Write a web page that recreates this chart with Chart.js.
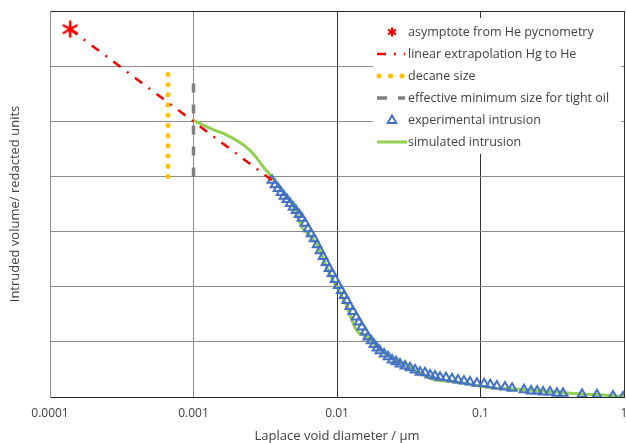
<!DOCTYPE html>
<html>
<head>
<meta charset="utf-8">
<script src="https://cdn.jsdelivr.net/npm/chart.js@4.4.1/dist/chart.umd.min.js"></script>
<style>
  html, body { margin: 0; padding: 0; background: #fff; overflow: hidden; }
  canvas { display: block; }
</style>
</head>
<body>
<canvas id="grafico" width="626" height="443"></canvas>
<script>
// eixo x (log) e rótulos
const xTicks = [0.0001, 0.001, 0.01, 0.1, 1];
const xTickLabels = ['0.0001', '0.001', '0.01', '0.1', '1'];

// assintota (picnometria He)
const asymX = [0.000138];
const asymY = [6.67];

// extrapolação linear Hg -> He
const extrapX = [0.000138, 0.00352];
const extrapY = [6.67, 3.93];

// tamanho do decano
const decaneX = [0.000664, 0.000664];
const decaneY = [4.0, 5.85];

// tamanho mínimo efetivo
const minSizeX = [0.001, 0.001];
const minSizeY = [4.0, 5.8];

// intrusão experimental
const expX = [0.00352, 0.00370, 0.00388, 0.00407, 0.00427, 0.00448, 0.00471, 0.00494, 0.00518, 0.00544,
  0.00570, 0.00598, 0.00628, 0.00659, 0.00691, 0.00726, 0.00761, 0.00799, 0.00838, 0.00880,
  0.00923, 0.00969, 0.0102, 0.0107, 0.0112, 0.0117, 0.0123, 0.0129, 0.0136, 0.0142,
  0.0149, 0.0157, 0.0164, 0.0173, 0.0181, 0.0190, 0.0199, 0.0213, 0.0227, 0.0242,
  0.0258, 0.0275, 0.0298, 0.0323, 0.0350, 0.0379, 0.0411, 0.0445, 0.0482, 0.0522,
  0.0575, 0.0633, 0.0697, 0.0767, 0.0845, 0.0945, 0.106, 0.117, 0.130, 0.148,
  0.166, 0.201, 0.225, 0.248, 0.273, 0.305, 0.341, 0.376, 0.510, 0.648, 0.838, 0.984];
const expY = [3.93, 3.85, 3.78, 3.71, 3.64, 3.58, 3.51, 3.44, 3.38, 3.31,
  3.24, 3.15, 3.05, 2.96, 2.87, 2.76, 2.65, 2.55, 2.44, 2.33,
  2.24, 2.13, 2.02, 1.93, 1.84, 1.75, 1.64, 1.55, 1.45, 1.36,
  1.27, 1.18, 1.09, 1.02, 0.95, 0.89, 0.84, 0.78, 0.73, 0.67,
  0.64, 0.60, 0.56, 0.53, 0.49, 0.45, 0.44, 0.40, 0.38, 0.36,
  0.35, 0.33, 0.31, 0.29, 0.27, 0.25, 0.24, 0.22, 0.20, 0.18,
  0.16, 0.13, 0.11, 0.11, 0.09, 0.09, 0.07, 0.07, 0.05, 0.04, 0.02, 0.0];

// intrusão simulada
const simX = [0.000992, 0.00117, 0.00137, 0.00161, 0.00189, 0.00221, 0.00248, 0.00273, 0.00300, 0.00331,
  0.00358, 0.00394, 0.00434, 0.00478, 0.00518, 0.00544, 0.00570, 0.00618, 0.00670, 0.00726,
  0.00786, 0.00852, 0.00909, 0.00984, 0.0107, 0.0116, 0.0125, 0.0134, 0.0142, 0.0157,
  0.0170, 0.0187, 0.0209, 0.0234, 0.0266, 0.0298, 0.0338, 0.0379, 0.0424, 0.0482,
  0.0566, 0.0664, 0.0780, 0.0992, 0.126, 0.161, 0.204, 0.260, 0.331, 0.421,
  0.535, 0.681, 0.866, 1.0];
const simY = [5.02, 4.93, 4.85, 4.78, 4.69, 4.58, 4.47, 4.35, 4.20, 4.07,
  3.96, 3.84, 3.69, 3.53, 3.36, 3.20, 3.07, 2.98, 2.89, 2.76,
  2.56, 2.35, 2.18, 2.02, 1.85, 1.67, 1.44, 1.25, 1.16, 1.11,
  1.04, 0.93, 0.82, 0.73, 0.65, 0.60, 0.51, 0.44, 0.36, 0.31,
  0.29, 0.27, 0.25, 0.20, 0.16, 0.15, 0.13, 0.11, 0.09, 0.07,
  0.05, 0.04, 0.02, 0.02];

const rotulos = ['asymptote from He pycnometry', 'linear extrapolation Hg to He', 'decane size',
  'effective minimum size for tight oil', 'experimental intrusion', 'simulated intrusion'];

const pares = (xs, ys) => xs.map((x, i) => ({ x, y: ys[i] }));

// asterisco de 6 braços
function estrela(tam, lw) {
  const c = document.createElement('canvas');
  c.width = tam; c.height = tam;
  const g = c.getContext('2d');
  const r = tam / 2 - 0.5;
  g.strokeStyle = '#ff0000';
  g.lineWidth = lw;
  g.lineCap = 'butt';
  [90, 30, 150].forEach(a => {
    const rad = a * Math.PI / 180;
    g.beginPath();
    g.moveTo(tam / 2 - Math.cos(rad) * r, tam / 2 - Math.sin(rad) * r);
    g.lineTo(tam / 2 + Math.cos(rad) * r, tam / 2 + Math.sin(rad) * r);
    g.stroke();
  });
  return c;
}
const estrelaGrande = estrela(18, 2.5);
const estrelaPequena = estrela(10, 2.2);

const corTexto = '#404040';
const fonte = 'Open Sans';

const legendaPlugin = {
  id: 'legenda',
  afterDraw(chart) {
    const { ctx, chartArea } = chart;
    const x0 = chartArea.right - 251, y0 = chartArea.top + 7;
    ctx.save();
    ctx.fillStyle = '#fff';
    ctx.fillRect(x0, y0, 248, 136);
    rotulos.forEach((txt, i) => {
      const y = y0 + 14 + i * 22;
      const cx = x0 + 19;
      ctx.setLineDash([]);
      ctx.lineCap = 'butt';
      if (i === 0) {
        ctx.drawImage(estrelaPequena, cx - 5, y - 5);
      } else if (i === 1) {
        ctx.strokeStyle = '#ff0000'; ctx.lineWidth = 2.5;
        ctx.setLineDash([9, 8, 2, 8]);
        ctx.beginPath(); ctx.moveTo(x0 + 4, y); ctx.lineTo(x0 + 32, y); ctx.stroke();
      } else if (i === 2) {
        ctx.fillStyle = '#ffc000';
        for (let k = 0; k < 3; k++) {
          ctx.beginPath(); ctx.arc(x0 + 6 + k * 11.5, y, 2.5, 0, Math.PI * 2); ctx.fill();
        }
      } else if (i === 3) {
        ctx.strokeStyle = '#808080'; ctx.lineWidth = 3.5;
        ctx.setLineDash([10, 11]);
        ctx.beginPath(); ctx.moveTo(x0 + 4, y); ctx.lineTo(x0 + 32, y); ctx.stroke();
      } else if (i === 4) {
        ctx.strokeStyle = '#4472c4'; ctx.fillStyle = 'rgba(0,0,0,0)';
        ctx.lineWidth = 2;
        Chart.helpers.drawPoint(ctx, { pointStyle: 'triangle', radius: 5, borderWidth: 2 }, cx, y + 0.5);
      } else {
        ctx.strokeStyle = '#92d050'; ctx.lineWidth = 3;
        ctx.beginPath(); ctx.moveTo(x0 + 4, y); ctx.lineTo(x0 + 34, y); ctx.stroke();
      }
      ctx.setLineDash([]);
      ctx.fillStyle = corTexto;
      ctx.font = `12.5px "${fonte}"`;
      ctx.textBaseline = 'middle';
      ctx.fillText(txt, x0 + 35, y);
    });
    ctx.restore();
  }
};

const ctx = document.getElementById('grafico').getContext('2d');
new Chart(ctx, {
  type: 'scatter',
  data: {
    datasets: [
      { label: rotulos[0], data: pares(asymX, asymY), pointStyle: estrelaGrande, pointRadius: 9, order: 0 },
      { label: rotulos[1], data: pares(extrapX, extrapY), showLine: true, pointRadius: 0,
        borderColor: '#ff0000', borderWidth: 2.5, borderDash: [9, 8, 2, 8], order: 1 },
      { label: rotulos[2], data: pares(decaneX, decaneY), showLine: true, pointRadius: 0,
        borderColor: '#ffc000', borderWidth: 5, borderDash: [0, 10.2], borderCapStyle: 'round', order: 5 },
      { label: rotulos[3], data: pares(minSizeX, minSizeY), showLine: true, pointRadius: 0,
        borderColor: '#808080', borderWidth: 3.5, borderDash: [9, 12], order: 4 },
      { label: rotulos[4], data: pares(expX, expY), pointStyle: 'triangle', pointRadius: 5,
        borderColor: '#4472c4', backgroundColor: 'rgba(0,0,0,0)', borderWidth: 2, order: 2 },
      { label: rotulos[5], data: pares(simX, simY), showLine: true, pointRadius: 0,
        borderColor: '#92d050', borderWidth: 3, order: 3 }
    ]
  },
  options: {
    responsive: false,
    animation: false,
    events: [],
    layout: { autoPadding: false, padding: { top: 11, right: 2, left: 0, bottom: 0 } },
    plugins: { legend: { display: false }, tooltip: { enabled: false } },
    scales: {
      x: {
        type: 'logarithmic',
        min: 0.0001,
        max: 1,
        afterBuildTicks: s => { s.ticks = xTicks.map(v => ({ value: v })); },
        afterFit: s => { s.height = 46; s.paddingLeft = 0; s.paddingRight = 0; },
        ticks: {
          callback: (v, i) => xTickLabels[i],
          color: corTexto,
          font: { family: fonte, size: 12 },
          padding: 9,
          maxRotation: 0,
          autoSkip: false
        },
        grid: {
          color: c => (c.tick && (c.tick.value === 0.001 || c.tick.value === 0.0001)) ? '#8c8c8c' : '#333333',
          drawTicks: false
        },
        border: { color: '#262626' },
        title: {
          display: true,
          text: 'Laplace void diameter / µm',
          color: corTexto,
          font: { family: fonte, size: 13, lineHeight: 1 },
          padding: { top: 0, bottom: 0 }
        }
      },
      y: {
        min: 0,
        max: 7,
        afterFit: s => { s.width = 50; },
        ticks: { display: false, stepSize: 1 },
        grid: {
          color: c => (c.tick && c.tick.value === 7) ? '#262626' : '#8c8c8c',
          drawTicks: false
        },
        border: { color: '#8c8c8c' },
        title: {
          display: true,
          text: 'Intruded volume/ redacted units',
          color: corTexto,
          font: { family: fonte, size: 13, lineHeight: 1 },
          padding: { top: 9, bottom: 0 }
        }
      }
    }
  },
  plugins: [legendaPlugin]
});
</script>
</body>
</html>
